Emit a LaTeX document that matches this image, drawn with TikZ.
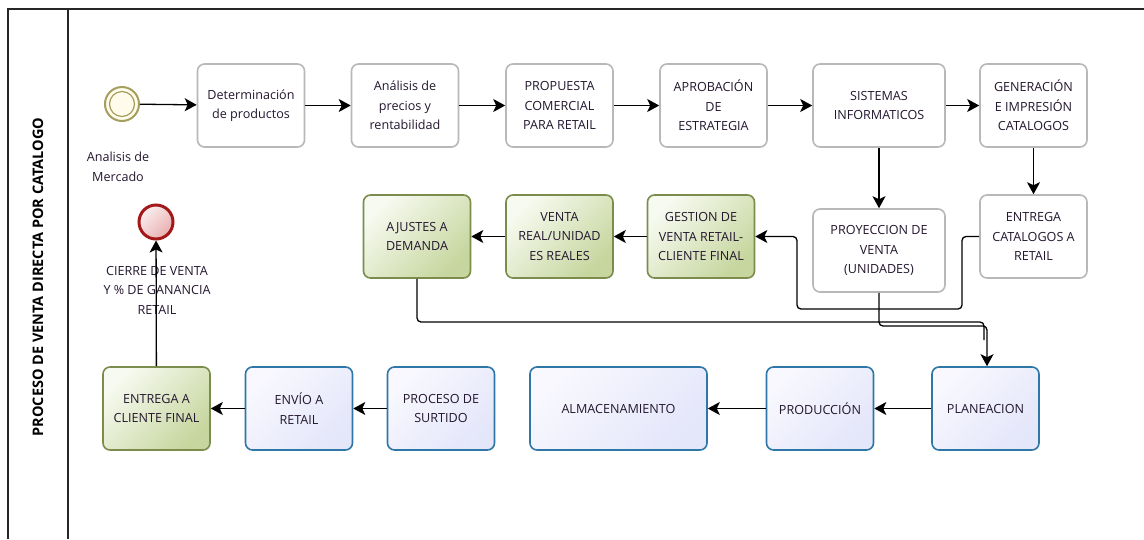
\documentclass[tikz,border=0pt]{standalone}
\usepackage{fontspec}
\setmainfont{Open Sans}
\usetikzlibrary{arrows.meta,shadings}
\definecolor{txt}{HTML}{24172F}
\definecolor{greyline}{HTML}{B8B8B8}
\definecolor{greenline}{HTML}{7B8C4C}
\definecolor{greenlight}{HTML}{F7FAF0}
\definecolor{greendark}{HTML}{C6D69E}
\definecolor{blueline}{HTML}{2E77A6}
\definecolor{bluelight}{HTML}{F8F8FE}
\definecolor{bluedark}{HTML}{E4E6FA}
\definecolor{startline}{HTML}{A59E5E}
\definecolor{startfill}{HTML}{FFFCEC}
\definecolor{endline}{HTML}{A31818}
\definecolor{endlight}{HTML}{FBEFEF}
\definecolor{enddark}{HTML}{E8AEB0}
\begin{document}
\begin{tikzpicture}[x=1pt,y=-1pt,
  font=\fontsize{12.6}{19.5}\selectfont,
  every node/.style={text=txt, align=center},
  basebox/.style={rounded corners=7pt, line width=1.6pt, minimum height=83pt, minimum width=107pt, inner sep=0pt},
  greytask/.style={basebox, draw=greyline, fill=white},
  greentask/.style={basebox, draw=greenline, top color=greenlight, bottom color=greendark, shading angle=45},
  bluetask/.style={basebox, draw=blueline, top color=bluelight, bottom color=bluedark, shading angle=45},
  flow/.style={line width=1.3pt, draw=black, -{Stealth[length=12pt,width=13pt,inset=3pt]}, rounded corners=4pt},
  link/.style={line width=1.3pt, draw=black, rounded corners=4pt},
]
\useasboundingbox (0,0) rectangle (1144,539);

% pool and lane
\draw[line width=1.2pt, black!85] (8,539) -- (8,9) -- (1144,9);
\draw[line width=1.2pt, black!85] (68,9) -- (68,539);
\node[rotate=90, font=\bfseries\fontsize{14.5}{16}\selectfont, text=black] (title) at (38,277) {PROCESO DE VENTA DIRECTA POR CATALOGO};

% events
\node[circle, draw=startline, line width=2pt, fill=startfill, minimum size=34pt, inner sep=0pt] (start) at (122,104) {};
\draw[startline, line width=1.2pt] (start.center) circle (12.5);
\node (startlbl) at (118,167) {Analisis de\\Mercado};
\node[circle, draw=endline, line width=3pt, top color=endlight, bottom color=enddark, shading angle=45, minimum size=34pt, inner sep=0pt] (finish) at (156,222) {};
\node (endlbl) at (157,290) {CIERRE DE VENTA\\Y \% DE GANANCIA\\RETAIL};

% first row
\node[greytask] (t1) at (251,105.5) {Determinación\\de productos};
\node[greytask] (t2) at (405,105.5) {Análisis de\\precios y\\rentabilidad};
\node[greytask] (t3) at (559.5,105.5) {PROPUESTA\\COMERCIAL\\PARA RETAIL};
\node[greytask] (t4) at (713.5,105.5) {APROBACIÓN\\DE\\ESTRATEGIA};
\node[greytask, minimum width=132pt] (t5) at (879,105.5) {SISTEMAS\\INFORMATICOS};
\node[greytask] (t6) at (1033.5,105.5) {GENERACIÓN\\E IMPRESIÓN\\CATALOGOS};

% second row
\node[greytask, minimum width=132pt] (proy) at (879,250.5) {PROYECCION DE\\VENTA\\(UNIDADES)};
\node[greytask] (entcat) at (1033.5,236.5) {ENTREGA\\CATALOGOS A\\RETAIL};
\node[greentask] (gest) at (701,236.5) {GESTION DE\\VENTA RETAIL-\\CLIENTE FINAL};
\node[greentask] (vreal) at (559.5,236.5) {VENTA\\REAL/UNIDAD\\ES REALES};
\node[greentask] (ajus) at (417,236.5) {AJUSTES A\\DEMANDA};

% third row
\node[bluetask] (plan) at (985.5,408.5) {PLANEACION};
\node[bluetask] (prod) at (820,408.5) {PRODUCCIÓN};
\node[bluetask, minimum width=177pt] (alm) at (618.5,408.5) {ALMACENAMIENTO};
\node[bluetask] (surt) at (441,408.5) {PROCESO DE\\SURTIDO};
\node[bluetask] (envio) at (299,408.5) {ENVÍO A\\RETAIL};
\node[greentask] (ecf) at (156.5,408.5) {ENTREGA A\\CLIENTE FINAL};

% bend points of the routed flows
\coordinate (c1) at (962,236.5);
\coordinate (c2) at (962,309);
\coordinate (c3) at (797,309);
\coordinate (c4) at (797,236.5);
\coordinate (p1) at (879,326);
\coordinate (p2) at (987,326);
\coordinate (a1) at (417,322);
\coordinate (a2) at (984,322);
\coordinate (a3) at (984,340);

% flows
\draw[flow] (start) -- (t1);
\draw[flow] (t1) -- (t2);
\draw[flow] (t2) -- (t3);
\draw[flow] (t3) -- (t4);
\draw[flow] (t4) -- (t5);
\draw[flow] (t5) -- (t6);
\draw[flow] (t5) -- (proy);
\draw[flow] (t6) -- (entcat);
\draw[flow] (entcat.west) -- (c1) -- (c2) -- (c3) -- (c4) -- (gest.east);
\draw[flow] (gest) -- (vreal);
\draw[flow] (vreal) -- (ajus);
\draw[link] (ajus.south) -- (a1) -- (a2) -- (a3);
\draw[flow] (proy.south) -- (p1) -- (p2) -- (plan.north -| p2);
\draw[flow] (plan) -- (prod);
\draw[flow] (prod) -- (alm);
\draw[flow] (surt) -- (envio);
\draw[flow] (envio) -- (ecf);
\draw[flow] (ecf) -- (finish);
\end{tikzpicture}
\end{document}
